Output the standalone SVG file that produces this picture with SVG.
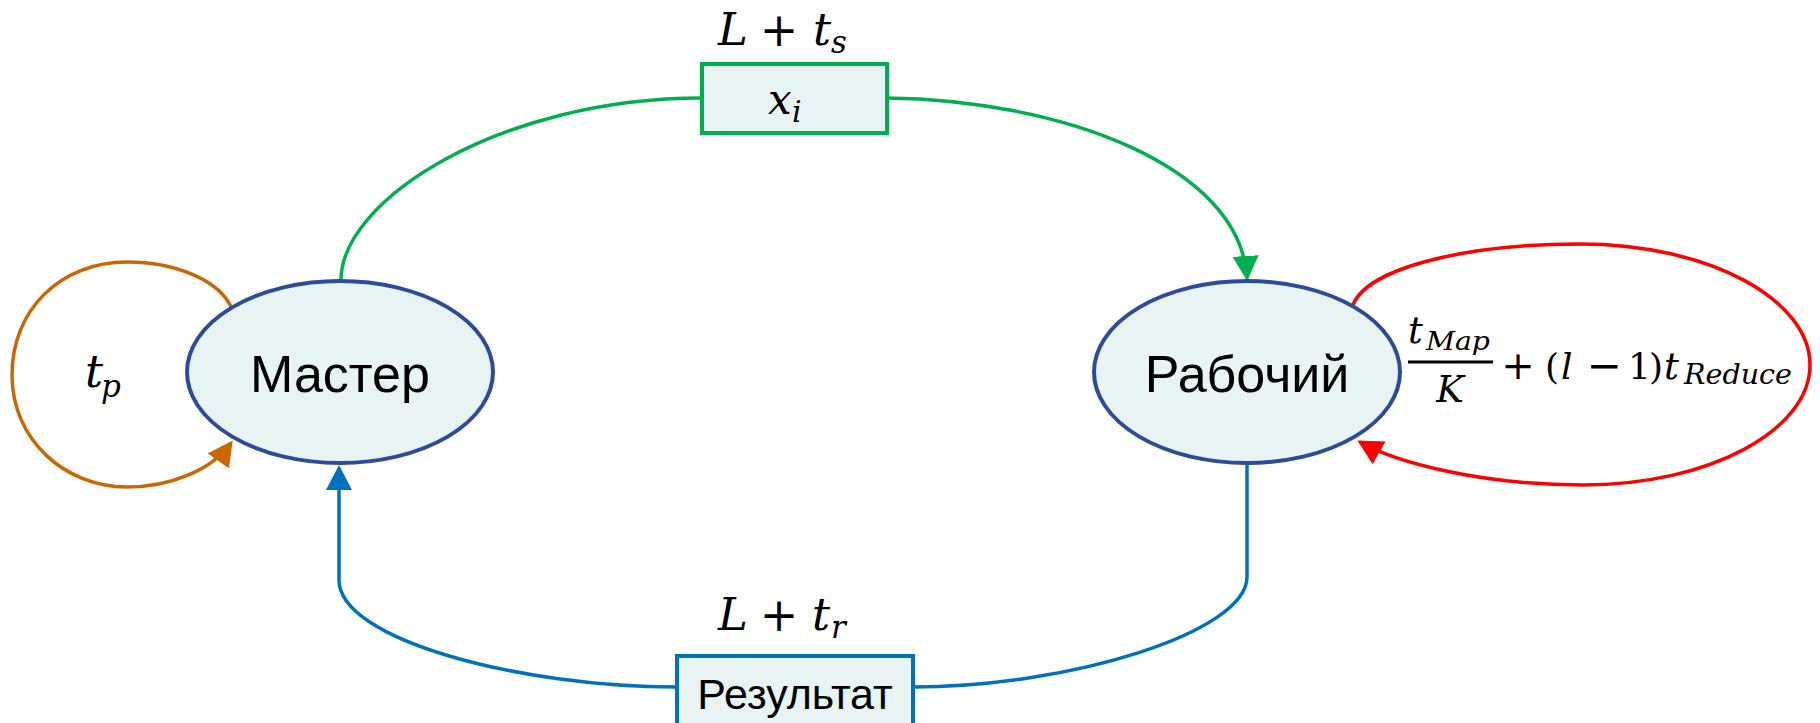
<svg xmlns="http://www.w3.org/2000/svg" width="1820" height="723" viewBox="0 0 1820 723">
<style>
.node ellipse{fill:#E8F4F4;stroke:#2E4B9B;stroke-width:4}
.box{fill:#E8F4F4;stroke-width:4}
.lbl{font-family:"Liberation Sans",Arial,sans-serif;fill:#000;text-anchor:middle}
.m{font-family:"DejaVu Serif","Liberation Serif",serif;font-style:italic;fill:#000}
.u{font-style:normal}
.c{fill:none;stroke-width:3.5}
</style>
<defs>
<marker id="aG" viewBox="0 0 25 26" markerWidth="25" markerHeight="26" refX="22" refY="13" orient="auto" markerUnits="userSpaceOnUse"><path d="M0,0 L25,13 L0,26 z" fill="#00B050"/></marker>
<marker id="aB" viewBox="0 0 25 26" markerWidth="25" markerHeight="26" refX="22" refY="13" orient="auto" markerUnits="userSpaceOnUse"><path d="M0,0 L25,13 L0,26 z" fill="#0070C0"/></marker>
<marker id="aR" viewBox="0 0 25 26" markerWidth="25" markerHeight="26" refX="22" refY="13" orient="auto" markerUnits="userSpaceOnUse"><path d="M0,0 L25,13 L0,26 z" fill="#FF0000"/></marker>
<marker id="aO" viewBox="0 0 25 26" markerWidth="25" markerHeight="26" refX="22" refY="13" orient="auto" markerUnits="userSpaceOnUse"><path d="M0,0 L25,13 L0,26 z" fill="#CC6600"/></marker>
</defs>

<g id="connectors">
  <path class="c" stroke="#00B050" d="M341,280 C341,200 500,98 702,98"/>
  <path class="c" stroke="#00B050" d="M887,98 C1060,100 1240,165 1247,278" marker-end="url(#aG)"/>
  <path class="c" stroke="#0070C0" d="M1247,463 L1247,577 C1247,632 1070,687 913,687"/>
  <path class="c" stroke="#0070C0" d="M677,687 C520,687 339,640 339,580 L339,468" marker-end="url(#aB)"/>
  <path class="c" stroke="#CC6600" d="M232,309 C220,280 175,262 127,262 C60,262 12,310 12,375 C12,440 65,487 127,487 C170,487 212,470 231,443" marker-end="url(#aO)"/>
  <path class="c" stroke="#FF0000" d="M1352,308 C1362,270 1460,244 1580,244 C1710,244 1810,300 1810,365 C1810,430 1710,485 1583,485 C1480,485 1395,462 1360,442" marker-end="url(#aR)"/>
</g>

<g id="master" class="node">
  <ellipse cx="340" cy="372" rx="153" ry="91"/>
  <text class="lbl" x="340" y="392" font-size="52">Мастер</text>
</g>

<g id="worker" class="node">
  <ellipse cx="1247" cy="372" rx="153" ry="91"/>
  <text class="lbl" x="1247" y="392" font-size="52">Рабочий</text>
</g>

<g id="xi-box">
  <rect class="box" stroke="#00B050" x="702" y="64" width="185" height="69"/>
  <text class="m" x="768" y="114" font-size="42">x</text>
  <text class="m" x="792" y="122" font-size="30">i</text>
</g>

<g id="result-box">
  <rect class="box" stroke="#0070C0" x="677" y="656" width="236" height="80"/>
  <text class="lbl" x="795" y="709" font-size="43">Результат</text>
</g>

<g id="label-send">
  <text class="m" x="718" y="45" font-size="45">L</text>
  <text class="m u" x="779" y="46" font-size="46" text-anchor="middle">+</text>
  <text class="m" x="813" y="45" font-size="45">t</text>
  <text class="m" x="831" y="53" font-size="31">s</text>
</g>

<g id="label-return">
  <text class="m" x="718" y="630" font-size="45">L</text>
  <text class="m u" x="779" y="631" font-size="46" text-anchor="middle">+</text>
  <text class="m" x="812" y="630" font-size="45">t</text>
  <text class="m" x="831" y="638" font-size="31">r</text>
</g>

<g id="label-tp">
  <text class="m" x="85" y="387" font-size="45">t</text>
  <text class="m" x="101" y="397" font-size="31">p</text>
</g>

<g id="label-worker">
  <text class="m" x="1408" y="343" font-size="37">t</text>
  <text class="m" x="1426" y="350" font-size="26" textLength="64" lengthAdjust="spacingAndGlyphs">Map</text>
  <rect x="1408" y="360.5" width="85" height="3" fill="#000"/>
  <text class="m" x="1450" y="402" font-size="37" text-anchor="middle">K</text>
  <text class="m u" x="1518" y="379" font-size="40" text-anchor="middle">+</text>
  <text class="m u" x="1545" y="379" font-size="36">(</text>
  <text class="m" x="1561" y="379" font-size="36">l</text>
  <text class="m u" x="1604" y="380" font-size="42" text-anchor="middle">−</text>
  <text class="m u" x="1628" y="379" font-size="36">1</text>
  <text class="m u" x="1649" y="379" font-size="36">)</text>
  <text class="m" x="1664" y="379" font-size="37">t</text>
  <text class="m" x="1684" y="384" font-size="27" textLength="108" lengthAdjust="spacingAndGlyphs">Reduce</text>
</g>
</svg>
